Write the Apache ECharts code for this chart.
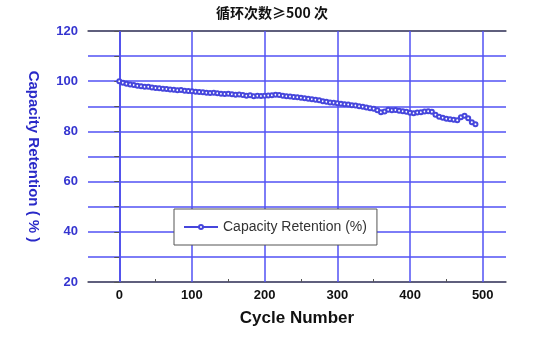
<!DOCTYPE html>
<html>
<head>
<meta charset="utf-8">
<script src="https://cdn.jsdelivr.net/npm/echarts@6/dist/echarts.min.js"></script>
<style>html,body{margin:0;padding:0;background:#fff;}#c{width:544px;height:340px;}</style>
</head>
<body>
<div id="c"></div>
<script>
const titleText = '循环次数≥500 次';
const seriesName = 'Capacity Retention (%)';
const xName = 'Cycle Number';
const yName = 'Capacity Retention ( % )';
const cycles = [0,5,10,15,20,25,30,35,40,45,50,55,60,65,70,75,80,85,90,95,100,105,110,115,120,125,130,135,140,145,150,155,160,165,170,175,180,185,190,195,200,205,210,215,220,225,230,235,240,245,250,255,260,265,270,275,280,285,290,295,300,305,310,315,320,325,330,335,340,345,350,355,360,365,370,375,380,385,390,395,400,405,410,415,420,425,430,435,440,445,450,455,460,465,470,475,480,485,490];
const retention = [100.0,99.4,99.0,98.7,98.5,98.2,98.0,97.8,97.8,97.5,97.3,97.2,97.0,96.9,96.7,96.6,96.4,96.5,96.2,96.1,96.0,95.8,95.7,95.6,95.4,95.3,95.4,95.2,95.0,94.9,95.0,94.8,94.6,94.7,94.5,94.2,94.4,94.0,94.2,94.1,94.2,94.3,94.4,94.6,94.5,94.2,94.0,93.9,93.7,93.6,93.4,93.2,93.0,92.8,92.6,92.4,92.0,91.8,91.5,91.4,91.2,91.0,90.8,90.7,90.4,90.3,90.0,89.8,89.5,89.2,89.0,88.4,87.6,87.9,88.6,88.4,88.5,88.2,88.0,87.8,87.4,87.2,87.5,87.6,87.9,88.0,87.8,86.6,85.8,85.4,85.0,84.8,84.6,84.4,85.6,86.2,85.2,83.6,82.8];
const xLabels = [0,100,200,300,400,500];
const xMinorTicks = [50,150,250,350,450];
const yLabels = [20,40,60,80,100,120];
const xRange = [-43, 532];
const yRange = [20, 120];

const blue = '#5252f5';
const chart = echarts.init(document.getElementById('c'));
const data = cycles.map((c, i) => [c, retention[i]]);
chart.setOption({
  animation: false,
  backgroundColor: '#fff',
  title: {
    text: titleText, left: 'center', top: 1,
    textStyle: {fontFamily: 'Noto Sans CJK SC', fontSize: 14, fontWeight: 'bold', color: '#111'}
  },
  grid: {left: 88, right: 38, top: 31, bottom: 58},
  legend: {
    left: 174, top: 209, z: 20,
    backgroundColor: '#fff', borderColor: '#555', borderWidth: 1,
    padding: [11, 10, 11, 9],
    itemWidth: 34, itemHeight: 5, itemGap: 5,
    textStyle: {fontFamily: 'Liberation Sans', fontSize: 14, color: '#333'},
    itemStyle: {borderWidth: 1},
    data: [seriesName]
  },
  xAxis: [{
    type: 'value', min: xRange[0], max: xRange[1], position: 'bottom',
    name: xName, nameLocation: 'middle', nameGap: 28,
    nameTextStyle: {fontFamily: 'Liberation Sans', fontSize: 17, fontWeight: 'bold', color: '#111'},
    axisLine: {show: true, lineStyle: {color: '#555', width: 1.5}},
    axisTick: {show: true, inside: true, length: 3, customValues: xMinorTicks, lineStyle: {color: '#555'}},
    axisLabel: {customValues: xLabels, margin: 7, fontFamily: 'Liberation Sans', fontSize: 13, fontWeight: 'bold', color: '#111'},
    splitLine: {show: false}
  }, {
    type: 'value', min: xRange[0], max: xRange[1], position: 'top',
    axisLine: {show: true, lineStyle: {color: '#555', width: 1.5}},
    axisTick: {show: false}, axisLabel: {show: false}, splitLine: {show: false}
  }],
  yAxis: [{
    type: 'value', min: yRange[0], max: yRange[1], interval: 10, position: 'left',
    name: yName, nameLocation: 'middle', nameRotate: -90, nameGap: 47,
    nameTextStyle: {fontFamily: 'Liberation Sans', fontSize: 15, fontWeight: 'bold', color: '#2a2ac8'},
    axisLine: {show: true, lineStyle: {color: '#555', width: 1.5}},
    axisTick: {show: true, length: 5, lineStyle: {color: '#555'}},
    axisLabel: {margin: 10, fontFamily: 'Liberation Sans', fontSize: 13, fontWeight: 'bold', color: '#3535d0',
      formatter: v => (yLabels.indexOf(v) >= 0 ? String(v) : '')},
    splitLine: {show: true, lineStyle: {color: blue, width: 1.5}}
  }, {
    type: 'value', min: yRange[0], max: yRange[1], position: 'right',
    axisLine: {show: true, lineStyle: {color: blue, width: 1.5}},
    axisTick: {show: false}, axisLabel: {show: false}, splitLine: {show: false}
  }],
  series: [{
    name: seriesName, type: 'line', data: data,
    symbol: 'emptyCircle', symbolSize: 4, showAllSymbol: true,
    itemStyle: {color: '#4646dc', borderWidth: 1},
    lineStyle: {color: '#4646dc', width: 1},
    markLine: {
      silent: true, symbol: 'none', label: {show: false},
      lineStyle: {color: blue, width: 1.5, type: 'solid'},
      data: xLabels.map(v => ({xAxis: v}))
    },
    z: 5
  }]
});
</script>
</body>
</html>
